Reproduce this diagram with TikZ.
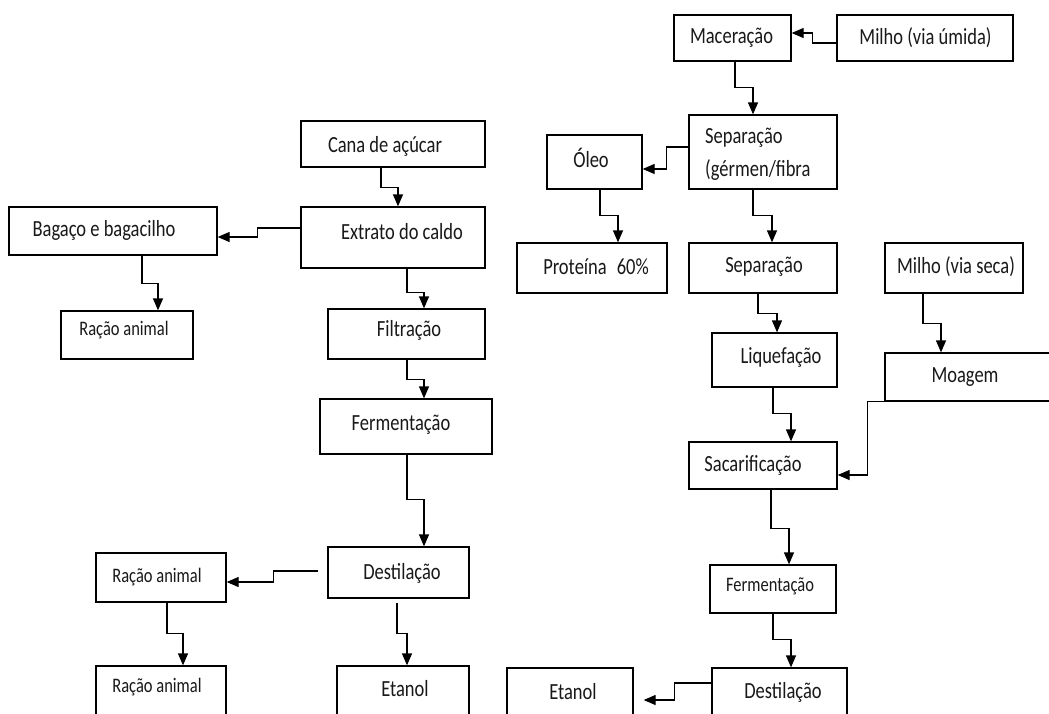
\documentclass[tikz,border=0pt]{standalone}
\usepackage{fontspec}
\setmainfont{Carlito}
\usetikzlibrary{arrows.meta,calc}
\newcommand{\vs}[1]{\scalebox{1}[1.25]{#1}}
\begin{document}
\begin{tikzpicture}[x=1pt,y=-1pt,
  box/.style={draw, line width=1.3pt, inner sep=0pt, rectangle},
  txt/.style={font=\fontsize{18.5}{22}\selectfont, inner sep=0pt, text=black!90},
  stxt/.style={font=\fontsize{16.5}{20}\selectfont, inner sep=0pt, text=black!90},
  arr/.style={line width=1.3pt, -{Triangle[length=12pt,width=10pt]}}]
\useasboundingbox (0,0) rectangle (1049,713);
\clip (0,0) rectangle (1049,713);
\fill[white] (0,0) rectangle (1049,713);

% ---- left column (cana) ----
\node[box, minimum width=184pt, minimum height=46pt] (cana) at (393,144) {};
\node[box, minimum width=184pt, minimum height=61pt] (extr) at (393,237.5) {};
\node[box, minimum width=208pt, minimum height=48pt] (baga) at (113,231) {};
\node[box, minimum width=132pt, minimum height=48pt] (rac1) at (127,335) {};
\node[box, minimum width=157pt, minimum height=50pt] (filt) at (406.5,334) {};
\node[box, minimum width=172pt, minimum height=55pt] (ferL) at (406,426.5) {};
\node[box, minimum width=141pt, minimum height=51pt] (desL) at (398.5,572.5) {};
\node[box, minimum width=130pt, minimum height=49pt] (rac2) at (161,577.5) {};
\node[box, minimum width=130pt, minimum height=50pt] (rac3) at (161,691) {};
\node[box, minimum width=132pt, minimum height=50pt] (etaL) at (403,691) {};

% ---- right column (milho) ----
\node[box, minimum width=117pt, minimum height=46pt] (mace) at (732.5,38) {};
\node[box, minimum width=176pt, minimum height=46pt] (mum) at (925,38) {};
\node[box, minimum width=148pt, minimum height=74pt] (sepg) at (763,152) {};
\node[box, minimum width=95pt, minimum height=54pt] (oleo) at (594.5,162) {};
\node[box, minimum width=150pt, minimum height=50pt] (prot) at (592,268) {};
\node[box, minimum width=148pt, minimum height=50pt] (sep2) at (763,268) {};
\node[box, minimum width=138pt, minimum height=50pt] (mseca) at (954,268) {};
\node[box, minimum width=125pt, minimum height=54pt] (liq) at (774.5,360) {};
\node[box, minimum width=167pt, minimum height=48pt] (moag) at (968.5,377) {};
\node[box, minimum width=148pt, minimum height=47pt] (sac) at (763,465.5) {};
\node[box, minimum width=126pt, minimum height=48pt] (ferR) at (773,589) {};
\node[box, minimum width=135pt, minimum height=48pt] (desR) at (779.5,692) {};
\node[box, minimum width=126pt, minimum height=48pt] (etaR) at (570,692) {};

% ---- texts ----
\node[txt] (tcana) at (385,146) {\vs{Cana de açúcar}};
\node[txt] (textr) at (402,232) {\vs{Extrato do caldo}};
\node[txt] (tbaga) at (104,230) {\vs{Bagaço e bagacilho}};
\node[stxt] (trac1) at (124,330) {\vs{Ração animal}};
\node[txt] (tfilt) at (409,330) {\vs{Filtração}};
\node[txt] (tferL) at (401,425) {\vs{Fermentação}};
\node[txt] (tdesL) at (402,573) {\vs{Destilação}};
\node[stxt] (trac2) at (157,577) {\vs{Ração animal}};
\node[stxt] (trac3) at (157,687) {\vs{Ração animal}};
\node[txt] (tetaL) at (405,689) {\vs{Etanol}};
\node[txt] (tmace) at (731.5,38) {\vs{Maceração}};
\node[txt] (tmum) at (925.5,38) {\vs{Milho (via úmida)}};
\node[txt, anchor=west] (tsepa) at (705,138) {\vs{Separação}};
\node[txt, anchor=west] (tsepb) at (705,170) {\vs{(gérmen/fibra}};
\node[txt] (toleo) at (591,158) {\vs{Óleo}};
\node[txt] (tprot) at (596,267) {\vs{Proteína\hspace{10pt}60\%}};
\node[txt] (tsep2) at (764,267) {\vs{Separação}};
\node[txt] (tmseca) at (956,267) {\vs{Milho (via seca)}};
\node[txt] (tliq) at (781,357) {\vs{Liquefação}};
\node[txt] (tmoag) at (965,377) {\vs{Moagem}};
\node[txt] (tsac) at (753,465) {\vs{Sacarificação}};
\node[stxt] (tferR) at (770,586) {\vs{Fermentação}};
\node[txt] (tdesR) at (783,692) {\vs{Destilação}};
\node[txt] (tetaR) at (573,692) {\vs{Etanol}};

% ---- connectors, left ----
\draw[arr] ([xshift=-12pt]cana.south) -- ++(0,20) -| ([xshift=5pt]extr.north);
\draw[arr] ([yshift=9.5pt]extr.west) -- ++(-43,0) |- ([yshift=-6pt]baga.east);
\draw[arr] ([xshift=29pt]baga.south) -- ++(0,28) -| ([xshift=31pt]rac1.north);
\draw[arr] ([xshift=14pt]extr.south) -- ++(0,24) -| ([xshift=17.5pt]filt.north);
\draw[arr] ([xshift=0.5pt]filt.south) -- ++(0,20) -| ([xshift=18pt]ferL.north);
\draw[arr] ([xshift=1pt]ferL.south) -- ++(0,45) -| ([xshift=25.5pt]desL.north);
\draw[arr] ([xshift=-9pt,yshift=1.5pt]desL.west) -- ++(-45,0) |- ([yshift=-4.5pt]rac2.east);
\draw[arr] ([xshift=6pt]rac2.south) -- ++(0,31) -| ([xshift=22pt]rac3.north);
\draw[arr] ([xshift=-1.5pt,yshift=-4pt]desL.south) -- ++(0,31) -| ([xshift=4pt]etaL.north);

% ---- connectors, right ----
\draw[arr] ([yshift=-5pt]mum.west) -- ++(-24,0) |- ([yshift=5pt]mace.east);
\draw[arr] ([xshift=2.5pt]mace.south) -- ++(0,26) -| ([xshift=-10pt]sepg.north);
\draw[arr] ([yshift=5pt]sepg.west) -- ++(-22,0) |- ([yshift=-7pt]oleo.east);
\draw[arr] ([xshift=5.5pt]oleo.south) -- ++(0,26) -| ([xshift=26pt]prot.north);
\draw[arr] ([xshift=-10pt]sepg.south) -- ++(0,26) -| ([xshift=9pt]sep2.north);
\draw[arr] ([xshift=-5pt]sep2.south) -- ++(0,20) -| ([xshift=2.5pt]liq.north);
\draw[arr] ([xshift=-31pt]mseca.south) -- ++(0,30) -| ([xshift=-27.5pt]moag.north);
\draw[arr] (moag.south west) -- ++(-17,0) |- ([yshift=-9.5pt]sac.east);
\draw[arr] ([xshift=-1.5pt]liq.south) -- ++(0,26) -| ([xshift=28pt]sac.north);
\draw[arr] ([xshift=8pt]sac.south) -- ++(0,39) -| ([xshift=16pt]ferR.north);
\draw[arr] (ferR.south) -- ++(0,26) -| ([xshift=11.5pt]desR.north);
\draw[arr] ([yshift=9pt]desR.west) -- ++(-37,0) |- ([xshift=10pt,yshift=-8pt]etaR.east);
\end{tikzpicture}
\end{document}
